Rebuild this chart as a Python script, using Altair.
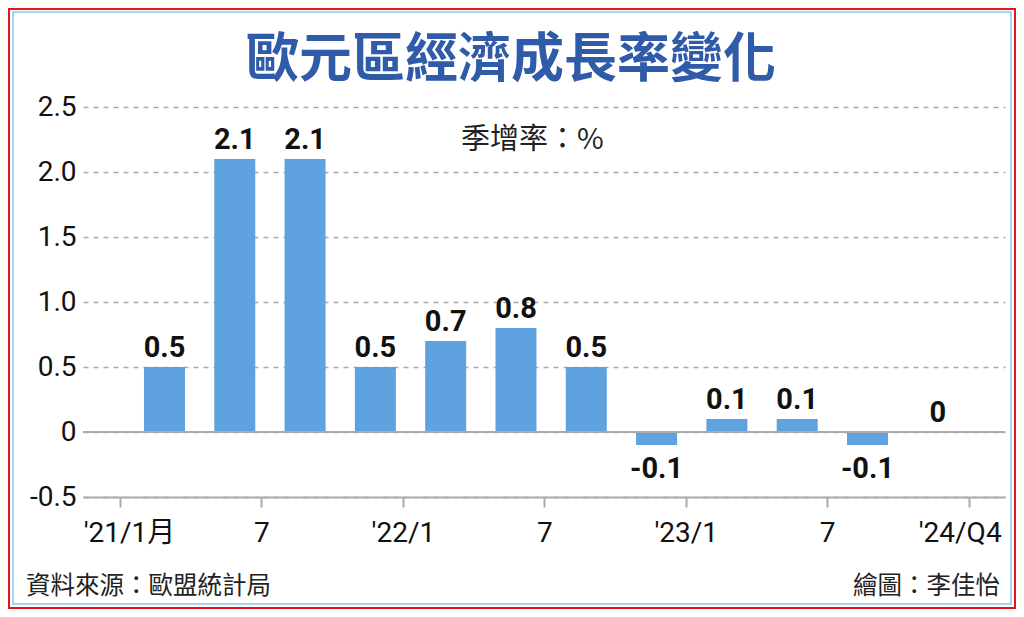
import json
import altair as alt
import pandas as pd

# ---- data ----
QUARTER_INDEX = list(range(12))
GROWTH = [0.5, 2.1, 2.1, 0.5, 0.7, 0.8, 0.5, -0.1, 0.1, 0.1, -0.1, 0]
VALUE_LABELS = ["0.5", "2.1", "2.1", "0.5", "0.7", "0.8", "0.5", "-0.1", "0.1", "0.1", "-0.1", "0"]
TICK_LABELS = ["'21/1月", "7", "'22/1", "7", "'23/1", "7", "'24/Q4"]
Y_TICKS = [-0.5, 0, 0.5, 1.0, 1.5, 2.0, 2.5]

TITLE = "歐元區經濟成長率變化"
UNIT = "季增率：%"
SOURCE = "資料來源：歐盟統計局"
CREDIT = "繪圖：李佳怡"

df = pd.DataFrame({"q": QUARTER_INDEX, "v": GROWTH, "lab": VALUE_LABELS})

TICK_START = -0.633
TICK_STEP = 2.012
tick_vals = [round(TICK_START + TICK_STEP * j, 3) for j in range(len(TICK_LABELS))]
label_expr = (
    json.dumps(TICK_LABELS, ensure_ascii=False)
    + f"[round((datum.value - ({TICK_START})) / {TICK_STEP})]"
)

NUM_FONT = "Roboto, Noto Sans CJK TC"
CJK_FONT = "Noto Sans CJK TC"
BAR_COLOR = "#5ea3df"
TITLE_COLOR = "#2f5ba8"
GRID_COLOR = "#aaaaaa"

W, H = 922, 390

x_scale = alt.Scale(domain=[-1.159, 11.956], nice=False, zero=False, padding=0)
y_scale = alt.Scale(domain=[-0.5, 2.5], nice=False)

x_enc = alt.X(
    "q:Q",
    scale=x_scale,
    axis=alt.Axis(
        values=tick_vals,
        labelExpr=label_expr,
        title=None,
        grid=False,
        domainColor=GRID_COLOR,
        domainWidth=2,
        tickColor=GRID_COLOR,
        tickWidth=2,
        tickSize=10,
        labelFont=NUM_FONT,
        labelFontSize=28,
        labelColor="#111111",
        labelPadding=12,
        labelFlush=False,
        labelOverlap=False,
        labelOffset={
            "condition": [
                {"test": "datum.value < 0", "value": 9},
                {"test": "datum.value > 11", "value": -9},
            ],
            "value": 0,
        },
    ),
)
y_enc = alt.Y(
    "v:Q",
    scale=y_scale,
    axis=alt.Axis(
        values=Y_TICKS,
        labelExpr="datum.value == 0 ? '0' : replace(format(datum.value, '.1f'), '\u2212', '-')",
        title=None,
        domain=False,
        ticks=False,
        grid=True,
        gridColor=GRID_COLOR,
        gridDash=[5, 5],
        gridWidth=1.5,
        labelFont=NUM_FONT,
        labelFontSize=28,
        labelColor="#111111",
        labelPadding=7,
    ),
)

base = alt.Chart(df)

bars = base.mark_bar(size=41, color=BAR_COLOR).encode(x=x_enc, y=y_enc)

zero_line = base.mark_rule(color=GRID_COLOR, strokeWidth=2).encode(
    y=alt.datum(0, scale=y_scale)
).transform_filter("datum.q == 0")

pos_labels = base.transform_filter("datum.v >= 0").mark_text(
    font=NUM_FONT, fontSize=29, fontWeight="bold", baseline="alphabetic", dy=-10, color="#111111"
).encode(x=alt.X("q:Q", scale=x_scale), y=alt.Y("v:Q", scale=y_scale), text="lab:N")

neg_labels = base.transform_filter("datum.v < 0").mark_text(
    font=NUM_FONT, fontSize=29, fontWeight="bold", baseline="top", dy=10, color="#111111"
).encode(x=alt.X("q:Q", scale=x_scale), y=alt.Y("v:Q", scale=y_scale), text="lab:N")

one = pd.DataFrame({"k": [0]})
ann = alt.Chart(one)

title_txt = ann.mark_text(
    text=TITLE, font=CJK_FONT, fontSize=53, fontWeight="bold", color=TITLE_COLOR,
    align="center", baseline="alphabetic"
).encode(x=alt.value(428), y=alt.value(-30))

unit_txt = ann.mark_text(
    text=UNIT, font=CJK_FONT, fontSize=29, color="#222222", align="left", baseline="middle"
).encode(x=alt.value(378), y=alt.value(33))

source_txt = ann.mark_text(
    text=SOURCE, font=CJK_FONT, fontSize=24.5, color="#222222", align="left", baseline="middle"
).encode(x=alt.value(-57), y=alt.value(480))

credit_txt = ann.mark_text(
    text=CREDIT, font=CJK_FONT, fontSize=24.5, color="#222222", align="right", baseline="middle"
).encode(x=alt.value(917), y=alt.value(480))

outer_frame = ann.mark_rect(fill=None, stroke="#e8141b", strokeWidth=2).encode(
    x=alt.value(-74), x2=alt.value(W + 10), y=alt.value(-98), y2=alt.value(H + 111)
)
inner_frame = ann.mark_rect(fill=None, stroke="#a9d3ef", strokeWidth=2).encode(
    x=alt.value(-70), x2=alt.value(W + 6), y=alt.value(-95), y2=alt.value(H + 107)
)

chart = alt.layer(
    bars, zero_line, pos_labels, neg_labels,
    title_txt, unit_txt, source_txt, credit_txt, outer_frame, inner_frame,
).properties(
    width=W, height=H,
    autosize=alt.AutoSizeParams(type="none"),
    padding={"left": 75, "top": 99, "right": 11, "bottom": 112},
    background="white",
).configure_view(stroke=None)

chart.save("out.html", embed_options={"renderer": "svg", "actions": False})
